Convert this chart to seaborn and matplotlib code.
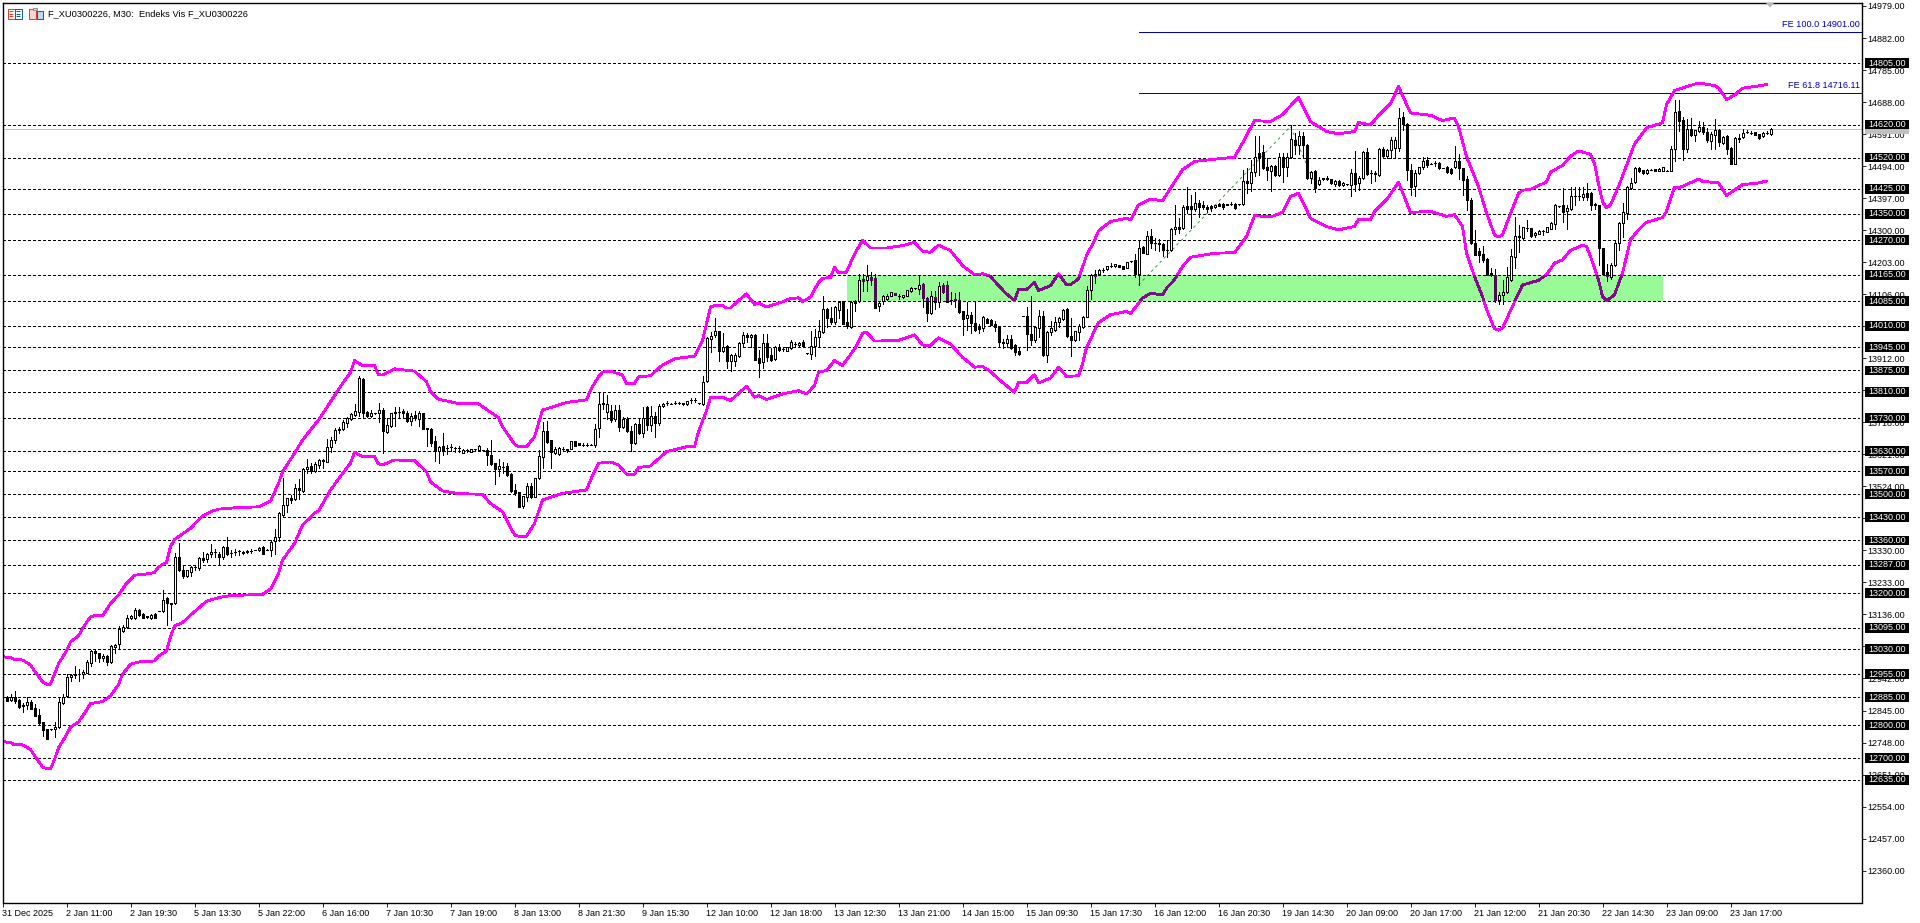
import seaborn as sns
import matplotlib
matplotlib.use("Agg")
import matplotlib.pyplot as plt
from matplotlib.patches import Rectangle, Polygon
from matplotlib.transforms import IdentityTransform

# candles (M30)
opens = [
12887,12885,12876,12885,12876,12862,12863,12870,12852,12830,
12809,12788,12788,12788,12795,12867,12888,12948,12955,12955,
12957,12960,12990,13025,13018,13003,13010,12992,13037,13045,
13087,13097,13124,13125,13149,13137,13130,13126,13136,13146,
13145,13186,13172,13171,13309,13271,13252,13265,13279,13277,
13307,13304,13318,13324,13320,13311,13339,13323,13326,13329,
13326,13324,13329,13331,13330,13341,13332,13332,13358,13371,
13437,13469,13488,13485,13518,13511,13578,13586,13571,13589,
13604,13599,13642,13664,13697,13697,13717,13728,13741,13748,
13848,13749,13737,13745,13745,13755,13690,13707,13749,13749,
13751,13747,13723,13739,13729,13745,13700,13697,13661,13632,
13646,13639,13642,13641,13641,13626,13634,13629,13636,13635,
13633,13633,13619,13594,13577,13584,13586,13561,13513,13506,
13464,13493,13525,13493,13548,13614,13692,13664,13624,13621,
13637,13638,13638,13660,13654,13650,13650,13650,13649,13700,
13775,13750,13752,13727,13755,13705,13729,13693,13654,13713,
13685,13765,13710,13737,13715,13766,13776,13774,13777,13777,
13775,13773,13786,13786,13775,13774,13842,13970,13981,13995,
13935,13950,13903,13905,13918,13958,13983,13976,13982,13912,
13900,13958,13921,13910,13947,13940,13935,13943,13955,13951,
13960,13927,13925,13949,13975,13991,14061,14034,14021,14059,
14084,14023,14008,14085,14084,14152,14149,14159,14154,14069,
14084,14092,14102,14110,14102,14097,14102,14115,14124,14122,
14137,14095,14048,14099,14082,14134,14135,14089,14093,14089,
14054,14033,14044,14020,14008,14004,14030,14028,14016,14008,
13962,13958,13969,13953,13934,14040,14040,13986,13966,14004,
14041,13923,13991,13999,14023,14031,14061,13978,13966,13992,
14008,14038,14120,14167,14167,14180,14181,14192,14190,14193,
14190,14185,14206,14210,14168,14248,14229,14283,14261,14261,
14259,14240,14241,14304,14309,14306,14372,14374,14365,14382,
14377,14369,14372,14369,14380,14378,14378,14380,14380,14378,
14378,14449,14444,14475,14533,14537,14491,14478,14495,14468,
14521,14491,14521,14574,14559,14586,14559,14458,14479,14439,
14457,14459,14455,14441,14449,14438,14439,14437,14473,14442,
14458,14538,14473,14473,14468,14545,14525,14542,14548,14549,
14644,14622,14483,14433,14473,14491,14513,14501,14502,14504,
14488,14490,14485,14491,14508,14488,14456,14392,14261,14236,
14228,14214,14170,14164,14089,14103,14114,14150,14220,14283,
14276,14308,14306,14284,14289,14296,14294,14304,14318,14372,
14377,14357,14365,14402,14402,14399,14412,14412,14379,14377,
14245,14172,14158,14194,14261,14321,14352,14428,14445,14489,
14481,14472,14483,14484,14480,14480,14480,14480,14546,14662,
14634,14546,14607,14587,14600,14614,14597,14571,14589,14604,
14564,14584,14549,14501,14580,14581,14597,14595,14596,14590,14584,14595,14592]
highs = [
12888,12888,12894,12904,12880,12867,12885,12876,12864,12849,
12809,12790,12789,12811,12885,12894,12955,12955,12980,12970,
12967,12998,13027,13027,13018,13017,13013,13042,13045,13101,
13104,13134,13135,13155,13153,13139,13131,13137,13139,13147,
13209,13190,13172,13321,13351,13287,13272,13282,13287,13311,
13325,13323,13349,13334,13324,13343,13370,13331,13334,13331,
13327,13330,13335,13332,13341,13343,13333,13361,13394,13445,
13548,13490,13498,13530,13545,13580,13606,13596,13598,13606,
13606,13668,13674,13700,13703,13725,13735,13747,13772,13858,
13851,13752,13755,13746,13775,13760,13730,13747,13765,13765,
13757,13752,13747,13752,13752,13745,13700,13700,13676,13646,
13685,13649,13652,13644,13646,13636,13637,13638,13637,13648,
13634,13639,13664,13596,13606,13599,13596,13564,13530,13508,
13496,13533,13533,13550,13634,13720,13722,13664,13642,13644,
13642,13638,13661,13661,13655,13654,13655,13651,13713,13811,
13811,13801,13770,13770,13770,13735,13733,13707,13715,13730,
13765,13767,13767,13750,13773,13778,13783,13776,13782,13779,
13776,13783,13792,13791,13776,13859,13976,13991,14034,13996,
13988,13953,13925,13927,13962,13991,13988,13986,13985,13937,
13986,13986,13943,13949,13955,13943,13946,13966,13960,13960,
13968,13928,13996,14001,14028,14102,14063,14066,14069,14084,
14084,14061,14084,14087,14167,14167,14193,14172,14167,14082,
14105,14107,14113,14111,14107,14105,14120,14127,14125,14165,
14139,14097,14117,14117,14142,14139,14147,14112,14109,14112,
14054,14082,14051,14082,14015,14041,14034,14030,14026,14010,
13970,13981,13983,13955,13947,14041,14066,14102,14011,14059,
14056,13994,14026,14036,14038,14061,14063,14034,13996,14016,
14041,14131,14168,14180,14181,14185,14191,14200,14199,14194,
14191,14205,14207,14228,14271,14253,14296,14303,14276,14273,
14261,14271,14306,14376,14336,14377,14430,14408,14417,14392,
14387,14377,14377,14376,14382,14382,14379,14384,14382,14379,
14483,14488,14513,14586,14586,14559,14518,14498,14498,14533,
14533,14535,14619,14594,14599,14596,14562,14478,14481,14461,
14458,14465,14456,14453,14451,14447,14440,14485,14541,14463,
14541,14549,14483,14478,14549,14553,14547,14582,14582,14670,
14657,14624,14501,14483,14492,14523,14521,14502,14508,14506,
14489,14495,14487,14556,14531,14488,14463,14397,14301,14245,
14251,14216,14185,14182,14114,14150,14188,14243,14339,14316,
14310,14331,14308,14293,14299,14299,14310,14324,14380,14373,
14427,14377,14432,14432,14430,14432,14442,14417,14381,14377,
14245,14198,14200,14271,14326,14382,14434,14458,14492,14491,
14483,14484,14484,14485,14487,14492,14481,14556,14695,14695,
14642,14637,14640,14604,14632,14627,14610,14597,14637,14607,
14585,14587,14551,14581,14592,14607,14604,14600,14597,14592,14596,14600,14609]
lows = [
12884,12874,12875,12868,12852,12842,12851,12850,12827,12803,
12768,12760,12787,12765,12793,12864,12887,12935,12945,12935,
12945,12959,12979,12995,12993,12995,12982,12989,13020,13030,
13083,13094,13122,13123,13132,13125,13126,13123,13125,13145,
13143,13104,13119,13169,13269,13245,13250,13252,13270,13272,
13295,13295,13311,13311,13287,13303,13316,13311,13317,13315,
13320,13323,13323,13330,13329,13319,13331,13314,13319,13358,
13435,13445,13473,13482,13487,13508,13565,13565,13568,13581,
13581,13597,13629,13654,13687,13695,13705,13725,13737,13737,
13733,13733,13733,13744,13720,13624,13687,13705,13707,13733,
13735,13718,13710,13725,13707,13697,13646,13646,13601,13596,
13619,13622,13631,13628,13629,13624,13628,13627,13635,13634,
13632,13589,13589,13530,13555,13563,13555,13508,13497,13462,
13457,13481,13488,13491,13545,13581,13654,13581,13622,13619,
13631,13629,13637,13646,13648,13646,13645,13649,13644,13672,
13757,13728,13720,13722,13693,13702,13690,13631,13651,13684,
13674,13695,13693,13674,13710,13764,13770,13772,13773,13772,
13769,13771,13775,13779,13774,13771,13839,13930,13976,13903,
13932,13882,13873,13890,13915,13945,13960,13945,13908,13854,
13882,13903,13903,13908,13935,13933,13933,13940,13949,13950,
13949,13926,13910,13920,13945,13989,14008,14016,14016,14034,
14016,14004,14004,14054,14082,14117,14117,14133,14063,14056,
14077,14089,14101,14104,14092,14096,14101,14114,14123,14107,
14067,14026,14046,14061,14066,14109,14082,14077,14067,14048,
13981,13999,13990,13996,13990,13996,14019,14012,13994,13947,
13943,13947,13941,13923,13923,14039,13938,13953,13961,13976,
13920,13900,13981,13996,14006,14028,13976,13920,13963,13966,
14004,14036,14092,14139,14166,14172,14180,14188,14189,14187,
14181,14184,14205,14157,14135,14230,14228,14246,14240,14238,
14222,14220,14238,14289,14291,14304,14352,14306,14359,14339,
14364,14354,14359,14368,14372,14365,14375,14375,14364,14377,
14376,14414,14420,14463,14467,14485,14453,14420,14463,14463,
14446,14463,14519,14531,14531,14518,14456,14443,14417,14437,
14452,14453,14441,14435,14434,14435,14438,14402,14420,14422,
14455,14468,14443,14448,14463,14521,14518,14519,14519,14541,
14604,14451,14407,14405,14471,14485,14491,14500,14495,14485,
14487,14473,14471,14487,14455,14407,14362,14259,14224,14205,
14205,14165,14160,14081,14077,14077,14111,14145,14185,14235,
14274,14296,14279,14278,14288,14286,14293,14303,14303,14371,
14326,14303,14362,14377,14392,14390,14392,14362,14365,14195,
14166,14147,14152,14192,14241,14279,14334,14425,14443,14477,
14471,14470,14482,14478,14479,14479,14479,14479,14511,14600,
14514,14538,14584,14571,14598,14592,14566,14546,14546,14556,
14561,14531,14501,14500,14566,14579,14595,14590,14588,14577,14583,14592,14588]
closes = [
12885,12875,12885,12874,12857,12858,12870,12851,12829,12808,
12787,12760,12788,12794,12870,12887,12947,12952,12952,12955,
12962,12992,13024,13019,13003,13010,12993,13039,13043,13092,
13099,13124,13131,13149,13134,13126,13127,13134,13126,13146,
13181,13172,13169,13309,13272,13251,13270,13279,13279,13307,
13301,13318,13324,13324,13311,13341,13319,13323,13326,13329,
13323,13329,13329,13331,13336,13319,13332,13354,13371,13442,
13469,13488,13483,13518,13513,13578,13584,13571,13592,13604,
13601,13642,13664,13695,13694,13718,13730,13743,13752,13852,
13747,13737,13745,13745,13754,13691,13709,13745,13745,13749,
13747,13723,13737,13732,13745,13699,13697,13656,13632,13644,
13632,13639,13642,13641,13639,13633,13634,13636,13636,13647,
13633,13620,13592,13577,13586,13584,13558,13510,13503,13462,
13495,13525,13491,13548,13616,13692,13659,13629,13638,13640,
13637,13635,13660,13647,13649,13650,13650,13650,13697,13772,
13772,13772,13725,13755,13705,13727,13693,13656,13713,13685,
13730,13709,13737,13715,13767,13773,13776,13774,13777,13775,
13774,13782,13786,13786,13775,13839,13973,13979,13996,13933,
13947,13903,13923,13923,13958,13983,13976,13982,13908,13897,
13958,13917,13907,13947,13937,13940,13945,13960,13955,13959,
13950,13927,13949,13976,13996,14061,14033,14021,14066,14082,
14016,14010,14082,14080,14150,14147,14160,14149,14065,14079,
14102,14102,14112,14105,14102,14104,14119,14126,14124,14135,
14095,14048,14100,14082,14132,14112,14083,14089,14087,14051,
14031,14044,14018,13998,14001,14038,14020,14014,14006,13960,
13958,13969,13943,13932,13926,14040,13984,13966,14006,14040,
13923,13993,14004,14023,14034,14059,13978,13966,13994,14009,
14036,14119,14165,14162,14180,14180,14190,14192,14198,14188,
14183,14204,14206,14168,14246,14232,14283,14261,14261,14257,
14241,14241,14304,14309,14305,14370,14365,14364,14382,14370,
14370,14364,14366,14375,14374,14371,14376,14380,14368,14378,
14448,14444,14476,14523,14522,14487,14481,14495,14468,14521,
14491,14521,14576,14559,14586,14559,14458,14475,14427,14453,
14454,14455,14442,14449,14438,14444,14439,14473,14441,14458,
14538,14471,14473,14471,14545,14525,14542,14574,14574,14641,
14622,14481,14430,14473,14491,14510,14498,14501,14502,14487,
14488,14476,14473,14509,14488,14453,14390,14261,14226,14226,
14210,14165,14163,14089,14103,14113,14158,14222,14281,14279,
14309,14308,14281,14291,14297,14296,14309,14321,14377,14372,
14356,14367,14402,14402,14402,14410,14400,14377,14375,14245,
14168,14160,14194,14261,14321,14355,14430,14443,14489,14479,
14472,14483,14483,14479,14486,14491,14480,14546,14659,14630,
14546,14607,14587,14602,14614,14597,14573,14590,14604,14566,
14582,14546,14501,14580,14577,14595,14597,14595,14589,14580,14595,14595,14605]

# envelope lines, bar number and price at each bend
upper_bars = [0,2,3,5,7,8,10,11,12,13,14,16,17,19,20,22,23,25,27,29,31,33,35,38,39,41,42,43,47,50,52,54,58,64,67,69,70,73,75,77,79,82,85,87,88,90,93,94,95,98,103,106,107,109,114,119,124,125,128,129,131,133,135,141,146,147,149,150,152,155,156,158,159,162,165,168,170,173,175,177,178,180,181,182,184,186,188,189,191,195,197,199,200,202,204,205,207,208,209,211,213,215,217,221,225,228,230,232,234,237,240,243,245,247,249,251,253,254,256,258,259,262,264,266,267,269,271,273,274,277,281,282,284,287,290,292,295,298,303,308,310,313,317,320,324,327,331,334,338,339,342,344,347,349,352,357,360,363,364,366,369,371,373,374,375,377,379,380,382,386,387,390,392,394,397,398,399,400,401,402,404,406,408,411,415,416,418,424,428,429,431,433,435,438,441]
upper_band = [13008,13005,13000,12998,12983,12965,12932,12925,12925,12955,12987,13025,13053,13071,13094,13129,13132,13132,13169,13195,13230,13255,13257,13263,13280,13294,13341,13363,13397,13434,13447,13455,13459,13462,13479,13533,13568,13624,13664,13695,13725,13780,13836,13869,13905,13890,13890,13862,13861,13880,13873,13841,13811,13788,13775,13774,13732,13705,13652,13644,13644,13674,13755,13778,13786,13816,13856,13870,13873,13861,13836,13836,13856,13859,13892,13910,13914,13918,13966,14067,14072,14072,14064,14064,14087,14107,14075,14080,14067,14083,14093,14095,14084,14097,14142,14154,14157,14188,14171,14173,14228,14269,14246,14246,14253,14263,14236,14233,14255,14238,14193,14165,14168,14160,14132,14107,14087,14120,14120,14142,14117,14132,14168,14135,14135,14152,14223,14269,14298,14326,14336,14331,14377,14394,14389,14427,14483,14508,14515,14521,14564,14632,14629,14650,14703,14629,14599,14592,14599,14626,14619,14647,14683,14735,14655,14648,14632,14640,14614,14523,14432,14352,14286,14279,14286,14350,14411,14421,14424,14446,14476,14496,14524,14540,14530,14501,14440,14387,14367,14377,14432,14496,14561,14610,14625,14680,14723,14746,14738,14731,14696,14709,14730,14735,14741]
lower_bars = [0,2,3,5,7,8,10,11,12,13,14,16,17,19,21,22,25,27,29,30,32,34,38,39,41,42,43,45,47,51,54,57,65,67,69,70,73,75,77,78,79,82,85,87,88,90,93,94,95,98,103,106,107,110,114,120,122,125,128,129,131,133,135,140,146,147,149,152,154,156,158,159,162,166,171,173,174,176,177,180,182,186,188,189,191,195,199,201,203,204,206,208,210,213,215,216,218,224,228,230,232,234,237,240,243,245,247,249,253,254,256,258,259,262,264,266,269,270,271,274,277,281,282,285,287,290,291,293,295,297,303,308,311,313,317,320,322,324,327,331,334,338,339,342,343,346,349,352,357,361,363,365,366,368,370,371,373,374,375,376,379,380,384,386,388,390,392,395,396,397,399,400,401,403,405,407,409,411,415,416,417,418,419,421,424,425,429,431,434,435,439,441]
lower_band = [12751,12748,12741,12741,12727,12709,12674,12669,12668,12697,12732,12771,12795,12810,12846,12866,12872,12889,12924,12955,12985,12992,12995,13010,13025,13068,13101,13111,13134,13176,13187,13193,13197,13213,13260,13301,13351,13407,13430,13444,13449,13513,13563,13594,13628,13614,13614,13592,13589,13604,13602,13568,13538,13510,13502,13500,13472,13447,13377,13373,13373,13412,13483,13503,13513,13543,13594,13598,13589,13561,13561,13581,13586,13629,13644,13644,13690,13753,13794,13794,13784,13827,13794,13799,13787,13804,13814,13804,13829,13870,13875,13905,13890,13940,13988,13991,13964,13966,13983,13952,13950,13974,13955,13915,13885,13887,13872,13849,13809,13839,13839,13862,13837,13852,13885,13857,13859,13895,13945,14020,14044,14054,14047,14094,14109,14104,14124,14150,14190,14218,14230,14232,14281,14344,14340,14354,14402,14412,14336,14311,14301,14311,14333,14331,14357,14392,14445,14354,14357,14342,14347,14311,14230,14160,14099,14060,14001,13997,14003,14030,14109,14134,14148,14165,14200,14210,14239,14254,14251,14220,14150,14099,14086,14104,14170,14271,14301,14324,14338,14357,14395,14430,14428,14438,14455,14448,14443,14405,14430,14438,14443,14449]

levels = [14805,14620,14520,14425,14350,14270,14165,14085,14010,13945,13875,13810,13730,13630,13570,13500,13430,13360,13287,13200,13095,13030,12955,12885,12800,12700,12635]
price_ticks = [14979,14882,14785,14688,14591,14494,14397,14300,14203,14106,14009,13912,13815,13718,13621,13524,13427,13330,13233,13136,13039,12942,12845,12748,12651,12554,12457,12360]
time_labels = ["31 Dec 2025","2 Jan 11:00","2 Jan 19:30","5 Jan 13:30","5 Jan 22:00","6 Jan 16:00","7 Jan 10:30","7 Jan 19:00","8 Jan 13:00","8 Jan 21:30","9 Jan 15:30","12 Jan 10:00","12 Jan 18:00","13 Jan 12:30","13 Jan 21:00","14 Jan 15:00","15 Jan 09:30","15 Jan 17:30","16 Jan 12:00","16 Jan 20:30","19 Jan 14:30","20 Jan 09:00","20 Jan 17:00","21 Jan 12:00","21 Jan 20:30","22 Jan 14:30","23 Jan 09:00","23 Jan 17:00"]
fe_levels = [14901.00, 14716.11]
fe_names = ["FE 100.0", "FE 61.8"]
fib_bars = [284, 322, 328]
fib_prices = [14134, 14614, 14442]
last_price = 14605
zone_bars = [211, 415]
zone_prices = [14085, 14165]

sns.set_style("white")
plt.rcParams["font.family"] = ["Liberation Sans", "DejaVu Sans"]
plt.rcParams["lines.scale_dashes"] = False

W, H = 1920, 923
fig = plt.figure(figsize=(W / 100, H / 100), dpi=100, facecolor="white")
ax = fig.add_axes([2.5 / W, 1 - 902.5 / H, 1859.5 / W, 900 / H])
ax.set_xlim(0, 464.875)
ax.set_ylim(12263.5, 14989.6)

for s in ax.spines.values():
    s.set_linewidth(1.0)
    s.set_color("black")
    s.set_zorder(6)

ytrans = ax.get_yaxis_transform()
FS = 6.5

# zone
zone = Rectangle((zone_bars[0], zone_prices[0]), zone_bars[1] - zone_bars[0], zone_prices[1] - zone_prices[0],
                 facecolor="#98fb98", edgecolor="none", zorder=1)
ax.add_patch(zone)

# horizontal levels
ax.hlines(levels, 0, 464, colors="black", linewidth=0.6, linestyles=(0, (2.0, 1.7)), zorder=2, antialiased=False)
ax.axhline(last_price, color="#c0c0c0", linewidth=0.6, zorder=1.5, antialiased=False)
for lv, nm in zip(fe_levels, fe_names):
    ax.hlines(lv, fib_bars[0], 464.875, colors="#0000c0", linewidth=0.6, zorder=2, antialiased=False)
    ax.annotate(f"{nm} {lv:.2f}", xy=(1, lv), xycoords=ytrans, xytext=(-1.5, 2.2), textcoords="offset points",
                ha="right", va="bottom", color="#0000c0", fontsize=FS + 0.1)

# fibo expansion trend
ax.plot(fib_bars, fib_prices, color="#1f8a1f", linewidth=0.6, linestyle=(0, (2.0, 2.4)), zorder=2.5)

# candles
bars = list(range(len(closes)))
ax.vlines(bars, lows, highs, colors="black", linewidth=0.5, zorder=3, antialiased=False)
up_x = [b for b in bars if closes[b] >= opens[b]]
dn_x = [b for b in bars if closes[b] < opens[b]]
ax.bar(up_x, [closes[b] - opens[b] for b in up_x], bottom=[opens[b] for b in up_x], width=0.5,
       facecolor="white", edgecolor="black", linewidth=0.5, zorder=3.5, antialiased=False)
ax.bar(dn_x, [opens[b] - closes[b] for b in dn_x], bottom=[closes[b] for b in dn_x], width=0.5,
       facecolor="black", edgecolor="black", linewidth=0.5, zorder=3.5, antialiased=False)
dark = ax.bar(dn_x, [opens[b] - closes[b] for b in dn_x], bottom=[closes[b] for b in dn_x], width=0.5,
              facecolor="#4f0a55", edgecolor="#4f0a55", linewidth=0.5, zorder=3.6, antialiased=False)
for p in dark:
    p.set_clip_path(zone)

# envelope
sns.lineplot(x=upper_bars, y=upper_band, color="#ff00ff", linewidth=1.3, sort=False, estimator=None, ax=ax, zorder=4, antialiased=False)
sns.lineplot(x=lower_bars, y=lower_band, color="#ff00ff", linewidth=1.3, sort=False, estimator=None, ax=ax, zorder=4, antialiased=False)
for bx, by in [(upper_bars, upper_band), (lower_bars, lower_band)]:
    ln = ax.plot(bx, by, color="#800d88", linewidth=1.3, zorder=4.1, antialiased=False)[0]
    ln.set_clip_path(zone)

# axes
ax.set_xlabel("")
ax.set_ylabel("")
ax.yaxis.tick_right()
ax.set_yticks(price_ticks)
ax.set_yticklabels([f"{t:.2f}" for t in price_ticks], fontsize=FS)
ax.tick_params(axis="y", length=3, width=0.6, pad=1.0, color="black", labelcolor="black", right=True, left=False)
xt = [16 * i for i in range(len(time_labels))]
ax.set_xticks(xt)
ax.set_xticklabels(time_labels, fontsize=FS, ha="left")
ax.tick_params(axis="x", length=3, width=0.6, pad=1.5, color="black", labelcolor="black", bottom=True)

# price tags on the right
ax.add_patch(Rectangle((1.0016, last_price - 15), 0.0237, 30, transform=ytrans, facecolor="#c0c0c0",
                       edgecolor="none", clip_on=False, zorder=4.9))
for lv in levels:
    ax.add_patch(Rectangle((1.0016, lv - 15), 0.0237, 30, transform=ytrans, facecolor="black",
                           edgecolor="none", clip_on=False, zorder=5))
    ax.text(1.0033, lv, f"{lv:.2f}", transform=ytrans, color="white", fontsize=FS, va="center",
            ha="left", clip_on=False, zorder=5.1)

# header text and small icons
fig.text(48.5 / W, 1 - 13.5 / H, "F_XU0300226, M30:  Endeks Vis F_XU0300226", fontsize=6.7, color="black",
         ha="left", va="center")


def px_rect(x, y, w, h, fc, ec):
    fig.add_artist(Rectangle((x, H - y - h), w, h, transform=IdentityTransform(), facecolor=fc, edgecolor=ec, linewidth=0.75))


px_rect(7.5, 8.5, 7, 10, "white", "#e04030")
px_rect(14.5, 8.5, 7, 10, "white", "#1060b0")
for yy in [11, 13.5, 16]:
    px_rect(9, yy, 4, 0.4, "#e04030", "#e04030")
    px_rect(16, yy, 4, 0.4, "#1060b0", "#1060b0")
px_rect(28.5, 8.5, 7, 10, "#fbd5cc", "#e04030")
px_rect(36.5, 10.5, 6, 8, "#bcdcf2", "#1060b0")
px_rect(33, 7.5, 4, 2.5, "#e0e0e0", "#909090")
fig.add_artist(Polygon([(1766, H - 3), (1774, H - 3), (1770, H - 7.5)], closed=True, transform=IdentityTransform(),
                       facecolor="#b8b8b8", edgecolor="none"))

fig.savefig("out.png", dpi=100, facecolor="white")
